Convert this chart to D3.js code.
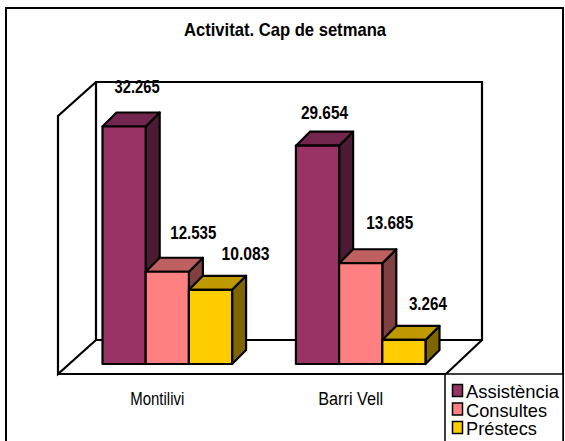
<!DOCTYPE html>
<html>
<head>
<meta charset="utf-8">
<script src="https://cdn.jsdelivr.net/npm/d3@7"></script>
<style>
html,body{margin:0;padding:0;background:#fff;overflow:hidden}
svg{display:block}
text{font-family:"Liberation Sans",Arial,sans-serif;fill:#000}
</style>
</head>
<body>
<svg id="c" width="565" height="441"></svg>
<script>
const categories = ["Montilivi", "Barri Vell"];
const seriesNames = ["Assistència", "Consultes", "Préstecs"];
const assistencia = [32265, 29654];
const consultes = [12535, 13685];
const prestecs = [10083, 3264];
const valueLabels = [["32.265", "29.654"], ["12.535", "13.685"], ["10.083", "3.264"]];
const seriesValues = [assistencia, consultes, prestecs];
const fronts = ["#993366", "#ff8080", "#ffcc00"];
const tops = ["#73264d", "#bf6060", "#bf9900"];
const sides = ["#4d1a33", "#804040", "#806600"];

const svg = d3.select("#c");
const depth = 14;
const stroke = "#000";

// outer frame
svg.append("rect").attr("x", 6).attr("y", 8).attr("width", 557).attr("height", 440)
  .attr("fill", "#fff").attr("stroke", stroke).attr("stroke-width", 2);

svg.append("text").attr("x", 285).attr("y", 36).attr("text-anchor", "middle")
  .attr("font-size", 18.5).attr("font-weight", "bold")
  .attr("textLength", 202).attr("lengthAdjust", "spacingAndGlyphs")
  .text("Activitat. Cap de setmana");

// 3D walls and floor
const wall = d3.path();
wall.moveTo(96, 340); wall.lineTo(96, 82); wall.lineTo(482, 82); wall.lineTo(482, 340); wall.lineTo(96, 340);
wall.moveTo(96, 82); wall.lineTo(58, 116); wall.lineTo(58, 374); wall.lineTo(96, 340);
wall.moveTo(58, 374); wall.lineTo(446, 374); wall.lineTo(482, 340);
svg.append("path").attr("d", wall.toString()).attr("fill", "#fff")
  .attr("stroke", stroke).attr("stroke-width", 2.2).attr("stroke-linejoin", "miter");

const x0 = d3.scaleBand().domain(categories).range([102.5, 425.5]).paddingInner(0.33).paddingOuter(0);
const x1 = d3.scaleBand().domain(seriesNames).range([0, x0.bandwidth()]);
const y = d3.scaleLinear().domain([0, 32265]).range([364, 126.5]);

categories.forEach((c, ci) => {
  seriesNames.forEach((s, si) => {
    const l = x0(c) + x1(s), r = l + x1.bandwidth();
    const t = y(seriesValues[si][ci]), b = y(0);
    const g = svg.append("g").attr("stroke", stroke).attr("stroke-width", 2.2).attr("stroke-linejoin", "round");
    g.append("path").attr("fill", sides[si])
      .attr("d", d3.line()([[r, t], [r + depth, t - depth], [r + depth, b - depth], [r, b]]) + "Z");
    g.append("path").attr("fill", tops[si])
      .attr("d", d3.line()([[l, t], [l + depth, t - depth], [r + depth, t - depth], [r, t]]) + "Z");
    g.append("path").attr("fill", fronts[si])
      .attr("d", d3.line()([[l, t], [r, t], [r, b], [l, b]]) + "Z");
  });
});

// value labels: offsets from each bar's front-top centre, as placed in the original
const labelDx = [[13, 7], [26, 29], [35, 24]];
const labelDy = [[-34, -27], [-33, -34], [-30, -30]];
const labelW = [[45, 47], [46, 47], [48, 38]];
categories.forEach((c, ci) => {
  seriesNames.forEach((s, si) => {
    svg.append("text")
      .attr("x", x0(c) + x1(s) + x1.bandwidth() / 2 + labelDx[si][ci])
      .attr("y", y(seriesValues[si][ci]) + labelDy[si][ci])
      .attr("text-anchor", "middle").attr("font-size", 18.5).attr("font-weight", "bold")
      .attr("textLength", labelW[si][ci]).attr("lengthAdjust", "spacingAndGlyphs")
      .text(valueLabels[si][ci]);
  });
});

// category labels
const catW = [54, 65];
categories.forEach((c, ci) => {
  svg.append("text").attr("x", x0(c) + x0.bandwidth() / 2 - 10).attr("y", 405)
    .attr("text-anchor", "middle").attr("font-size", 18)
    .attr("textLength", catW[ci]).attr("lengthAdjust", "spacingAndGlyphs")
    .text(c);
});

// legend
svg.append("rect").attr("x", 445).attr("y", 374).attr("width", 118).attr("height", 80)
  .attr("fill", "#fff").attr("stroke", stroke).attr("stroke-width", 1.5);
const legY = d3.scalePoint().domain(seriesNames).range([391, 428]);
const legW = [93, 81, 71];
seriesNames.forEach((s, si) => {
  svg.append("rect").attr("x", 452.5).attr("y", legY(s) - 6.5).attr("width", 10).attr("height", 12)
    .attr("fill", fronts[si]).attr("stroke", stroke).attr("stroke-width", 1.5);
  svg.append("text").attr("x", 466).attr("y", legY(s) + 7).attr("font-size", 18.5)
    .attr("textLength", legW[si]).attr("lengthAdjust", "spacingAndGlyphs")
    .text(s);
});
</script>
</body>
</html>
